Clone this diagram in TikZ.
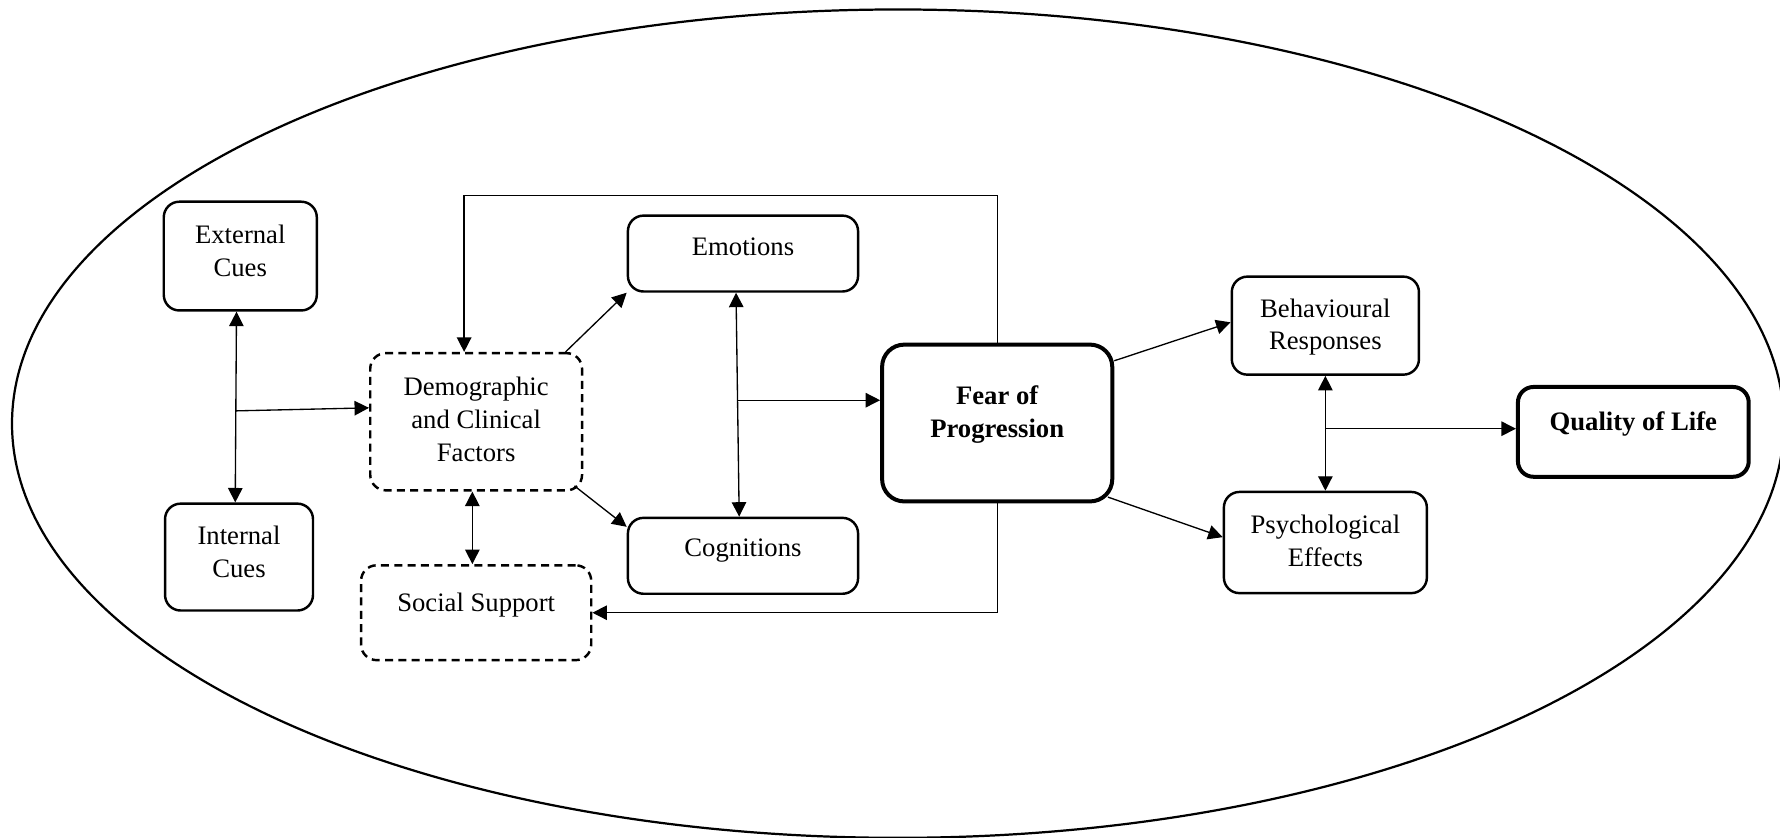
\documentclass[tikz,border=0pt]{standalone}
\usepackage{fontspec}
\setmainfont{Liberation Serif}
\usetikzlibrary{arrows.meta, calc}
\tikzstyle{factor} = [rectangle, rounded corners=7pt, draw=black, line width=1.1pt, align=center, font=\fontsize{12}{14.8}\selectfont]
\tikzstyle{moderator} = [factor, dash pattern=on 3.6pt off 2.4pt]
\tikzstyle{outcome} = [factor, line width=1.8pt, font=\fontsize{12}{14.8}\selectfont\bfseries]
\tikzstyle{link} = [line width=0.6pt]

\begin{document}
\begin{tikzpicture}[>={Triangle[length=6.5pt,width=6.5pt]}]
	\useasboundingbox (0,0) rectangle (28.15,13.25);
	\clip (0,0) rectangle (28.15,13.25);
	\draw[line width=1pt] (14.20,6.55) ellipse [x radius=14.01, y radius=6.55];

	\node(ext) at (3.80, 9.20) [factor, minimum width=2.42cm, minimum height=1.72cm, text depth=5pt] {External\\Cues};
	\node(int) at (3.78, 4.44) [factor, minimum width=2.34cm, minimum height=1.69cm, text depth=4.5pt] {Internal\\Cues};
	\node(demo) at (7.53, 6.58) [moderator, minimum width=3.35cm, minimum height=2.17cm, text depth=2pt] {Demographic\\and Clinical\\Factors};
	\node(soc) at (7.53, 3.56) [moderator, minimum width=3.64cm, minimum height=1.50cm, text depth=9.6pt] {Social Support};
	\node(emo) at (11.75, 9.24) [factor, minimum width=3.64cm, minimum height=1.20cm, text depth=6pt] {Emotions};
	\node(cog) at (11.75, 4.46) [factor, minimum width=3.64cm, minimum height=1.20cm, text depth=7pt] {Cognitions};
	\node(fear) at (15.77, 6.56) [outcome, rounded corners=10pt, minimum width=3.64cm, minimum height=2.48cm, text depth=10.3pt] {Fear of\\Progression};
	\node(beh) at (20.96, 8.10) [factor, minimum width=2.96cm, minimum height=1.55cm, text depth=1.3pt] {Behavioural\\Responses};
	\node(psy) at (20.96, 4.67) [factor, minimum width=3.21cm, minimum height=1.60cm, text depth=1.3pt] {Psychological\\Effects};
	\node(qol) at (25.83, 6.42) [outcome, minimum width=3.65cm, minimum height=1.42cm, text depth=10pt] {Quality of Life};

	\draw [link, <->] ([xshift=-0.06cm]ext.south) -- ([xshift=-0.06cm]int.north) coordinate[pos=0.52] (cuemid);
	\draw [link, ->] (cuemid) -- ([yshift=0.22cm]demo.west);
	\draw [link, <->] ([xshift=-0.06cm]demo.south) -- ([xshift=-0.06cm]soc.north);
	\draw [link, ->] (demo.38) -- (emo.south west);
	\draw [link, ->] ([shift={(-0.14,0.09)}]demo.south east) -- (cog.166);
	\draw [link, <->] ([xshift=-0.11cm]emo.south) -- ([xshift=-0.06cm]cog.north) coordinate[pos=0.48] (emomid);
	\draw [link, ->] (emomid) -- (emomid -| fear.west);
	\draw [link, ->] (fear.north) -- ++(0,2.33) -| ([xshift=-0.19cm]demo.north);
	\draw [link, ->] (fear.south) |- (soc.east);
	\draw [link, ->] (fear.28) -- (beh.178);
	\draw [link, ->] ([shift={(-0.1,0.1)}]fear.south east) -- (psy.177);
	\draw [link, <->] (beh.south) -- (psy.north) coordinate[pos=0.46] (bpmid);
	\draw [link, ->] (bpmid) -- (bpmid -| qol.west);
\end{tikzpicture}
\end{document}
